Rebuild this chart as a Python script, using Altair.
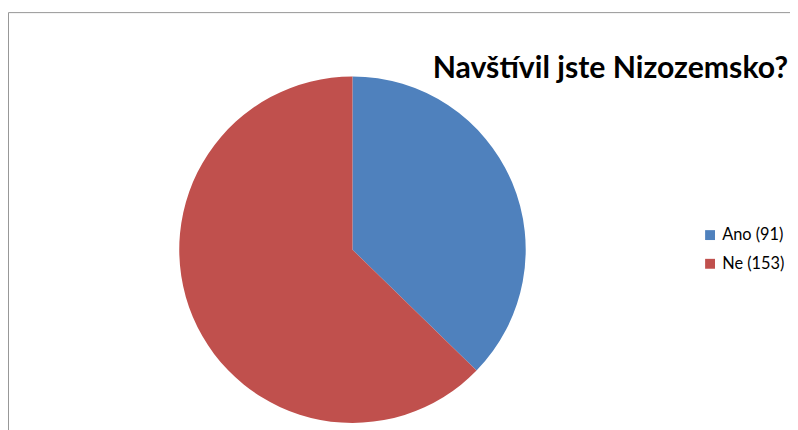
import altair as alt
import pandas as pd

categories = ["Ano", "Ne"]
values = [91, 153]
colors = ["#4F81BD", "#C0504D"]
title_text = "Navštívil jste Nizozemsko?"

df = pd.DataFrame({"cat": categories, "value": values, "order": list(range(len(categories)))})
df["label"] = [f"{c} ({v})" for c, v in zip(categories, values)]

W, H = 790, 422

pie = alt.Chart(df).mark_arc(radius=175).encode(
    theta=alt.Theta("value:Q", stack=True),
    color=alt.Color(
        "label:N",
        scale=alt.Scale(domain=list(df["label"]), range=colors),
        legend=alt.Legend(
            orient="none", legendX=701, legendY=219, title=None,
            symbolType="square", symbolSize=100, symbolStrokeWidth=0,
            labelFont="Lato", labelFontSize=16.5, labelColor="#000000",
            rowPadding=12, padding=0, labelOffset=4,
        ),
    ),
    order=alt.Order("order:Q"),
    x=alt.value(348),
    y=alt.value(242),
)

title = alt.Chart(pd.DataFrame({"t": [title_text]})).mark_text(
    font="Lato", fontWeight="bold", fontSize=30.5, align="right",
    baseline="alphabetic", color="#000000",
).encode(text="t:N", x=alt.value(788), y=alt.value(69))

border = alt.Chart(pd.DataFrame({"a": [0]})).mark_rect(
    filled=False, stroke="#969696", strokeWidth=1
).encode(x=alt.value(0.5), y=alt.value(2.5), x2=alt.value(900), y2=alt.value(600))

chart = alt.layer(border, pie, title).properties(
    width=W, height=H, autosize=alt.AutoSizeParams(type="none"), padding=0
).configure_view(stroke=None)

chart.save("out.html", embed_options={"renderer": "svg", "actions": False})
